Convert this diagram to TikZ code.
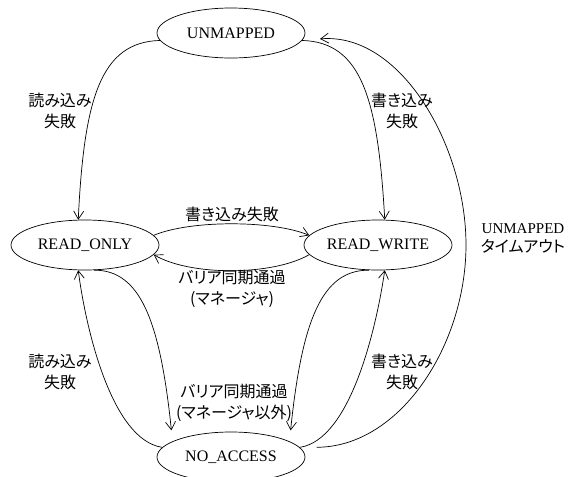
\documentclass[tikz,border=0pt]{standalone}
\usepackage{fontspec}
\setmainfont{Liberation Serif}
\newfontfamily\jpfont[RawFeature=+palt]{Noto Sans CJK JP}
\usetikzlibrary{shapes.geometric,arrows.meta}
\begin{document}
\begin{tikzpicture}[x=1pt,y=-1pt,
  state/.style={ellipse,draw,line width=0.7pt,minimum width=148pt,minimum height=50pt,inner sep=0pt,font=\fontsize{16}{19}\selectfont},
  lbl/.style={align=center,inner sep=0pt,font=\jpfont\fontsize{16}{21}\selectfont},
  conn/.style={line width=0.7pt,-{Straight Barb[length=8pt,width=10pt]}}
]
\useasboundingbox (0,0) rectangle (571,477);
\node[state] (U) at (231,33) {UNMAPPED};
\node[state] (RO) at (85,245) {READ\_ONLY};
\node[state] (RW) at (378,245) {READ\_WRITE};
\node[state] (NA) at (231,457) {NO\_ACCESS};

\draw[conn] (U.186) .. controls (100,42) and (84,100) .. (RO.105);
\draw[conn] (U.-6) .. controls (362,42) and (378,100) .. (RW.75);
\draw[conn] (RO.8) .. controls (190,220) and (272,220) .. (RW.172);
\draw[conn] (RW.188) .. controls (272,276) and (190,276) .. (RO.-8);
\draw[conn, shorten >=11pt] (RO.-70) .. controls (140,270) and (160,320) .. (NA.165);
\draw[conn, shorten >=11pt] (RW.-110) .. controls (322,270) and (302,320) .. (NA.15);
\draw[conn] (NA.172) .. controls (112,440) and (86,330) .. (RO.-105);
\draw[conn] (NA.8) .. controls (350,440) and (376,330) .. (RW.-75);
\draw[conn, shorten <=17pt, shorten >=18pt] (NA.8) .. controls (400,447) and (466,345) .. (466,245) .. controls (466,145) and (400,32) .. (U.-6);

\node[lbl] (l1) at (60,111) {読み込み\\失敗};
\node[lbl] (l2) at (402,111) {書き込み\\失敗};
\node[lbl] (l3) at (232,214) {書き込み失敗};
\node[lbl] (l4) at (232,289) {バリア同期通過\\(マネージャ)};
\node[lbl] (l5) at (60,372) {読み込み\\失敗};
\node[lbl] (l6) at (402,372) {書き込み\\失敗};
\node[lbl] (l7) at (234,403) {バリア同期通過\\(マネージャ以外)};
\node[lbl,font=\jpfont\fontsize{16}{19}\selectfont] (l8) at (523,238) {{\rmfamily\fontsize{15}{18}\selectfont UNMAPPED}\\タイムアウト};
\end{tikzpicture}
\end{document}
